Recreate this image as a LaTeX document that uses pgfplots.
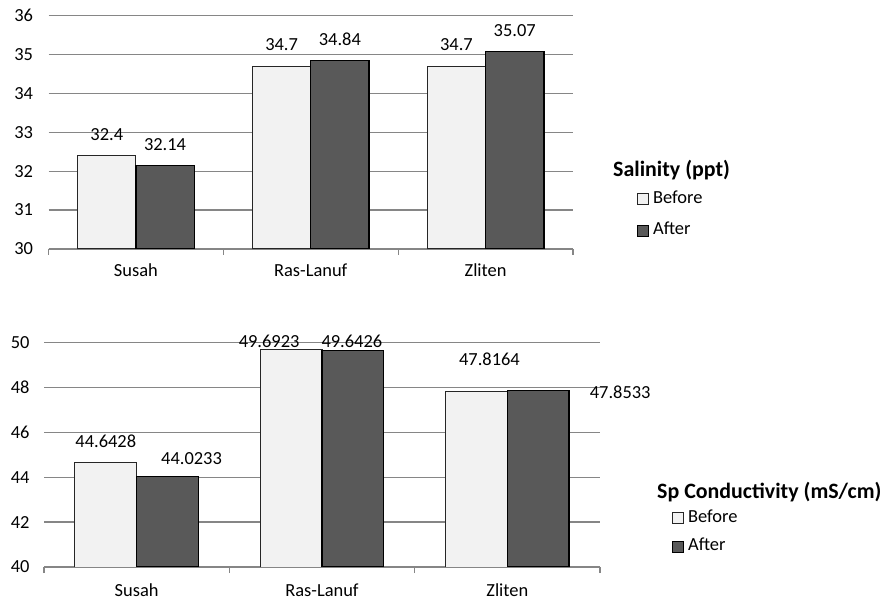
\documentclass[border=0pt]{standalone}
\usepackage{pgfplots}
\pgfplotsset{compat=1.18}
\usepackage{pgfplotstable}
\usepackage{fontspec}
\setmainfont{Carlito}

\definecolor{barlight}{HTML}{F2F2F2}
\definecolor{bardark}{HTML}{595959}
\definecolor{gridgray}{HTML}{868686}

% salinity (ppt): x, value, label offset (dx, dy in bp)
\pgfplotstableread{
x y dx dy
0 32.4 0 21.5
1 34.7 0 21.5
2 34.7 0 21.5
}\salbefore
\pgfplotstableread{
x y dx dy
0 32.14 0 21.5
1 34.84 0 21.5
2 35.07 0 21.5
}\salafter
% specific conductivity (mS/cm)
\pgfplotstableread{
x y dx dy
0 44.6428 0 21.3
1 49.6923 -22 8.3
2 47.8164 13 32
}\condbefore
\pgfplotstableread{
x y dx dy
0 44.0233 24 18.2
1 49.6426 -1 9.7
2 47.8533 82 -1.4
}\condafter

\pgfplotsset{
  barpanel/.style={
    scale only axis,
    anchor=south west,
    xmin=-0.5, xmax=2.5,
    xtick={0,1,2},
    xticklabels={Susah,Ras-Lanuf,Zliten},
    minor xtick={-0.5,0.5,1.5,2.5},
    major tick length=0pt,
    minor tick length=6bp,
    tick align=outside,
    minor tick style={gridgray, line width=1.2bp},
    axis x line*=bottom,
    axis y line*=left,
    x axis line style={gridgray, line width=1.3bp, -},
    y axis line style={draw=none},
    ymajorgrids,
    grid style={gridgray, line width=1.3bp},
    /pgf/number format/assume math mode=true,
    tick label style={font=\fontsize{18.5}{21}\selectfont, black},
    ybar=0pt,
    bar width=0.3333,
    point meta=explicit symbolic,
    nodes near coords,
    visualization depends on={\thisrow{dx} \as \dx},
    visualization depends on={\thisrow{dy} \as \dy},
    every node near coord/.append style={anchor=center, xshift=\dx bp, yshift=\dy bp,
      font=\fontsize{18.5}{21}\selectfont, black, inner sep=0pt},
    legend image code/.code={
      \draw[##1, line width=0.9bp] (0bp,-5.5bp) rectangle (11bp,5.5bp);
      \path (15bp,0bp);
    },
    legend style={draw=none, fill=none, inner sep=0pt, outer sep=0pt,
      font=\fontsize{18.5}{21}\selectfont,
      nodes={inner sep=0pt, text height=12bp, text depth=4bp},
      cells={anchor=west}},
  },
  before/.style={fill=barlight, draw=black!85, line width=1bp},
  after/.style={fill=bardark, draw=black, line width=1.3bp},
}

\begin{document}
\begin{tikzpicture}
\useasboundingbox (0,0) rectangle (885bp,601bp);

% upper panel: salinity
\begin{axis}[barpanel,
  at={(48.5bp,352bp)}, width=524.5bp, height=233.5bp,
  ymin=30, ymax=36, ytick={30,31,...,36},
  yticklabel style={xshift=-12bp},
  xticklabel style={yshift=-11bp},
  legend style={at={(1.122,0.247)}, anchor=north west, row sep=15.6bp},
]
\addplot[before] table[x=x, y=y, meta=y] {\salbefore};
\addplot[after] table[x=x, y=y, meta=y] {\salafter};
\legend{Before,After}
\end{axis}
\node[anchor=west, inner sep=0pt, font=\fontsize{22}{26}\selectfont\bfseries]
  at (613bp,431bp) {Salinity (ppt)};

% lower panel: specific conductivity
\begin{axis}[barpanel,
  at={(44bp,34bp)}, width=556bp, height=224.3bp,
  ymin=40, ymax=50, ytick={40,42,...,50},
  yticklabel style={xshift=-11bp},
  xticklabel style={yshift=-13bp},
  legend style={at={(1.1295,0.253)}, anchor=north west, row sep=12.3bp},
]
\addplot[before] table[x=x, y=y, meta=y] {\condbefore};
\addplot[after] table[x=x, y=y, meta=y] {\condafter};
\legend{Before,After}
\end{axis}
\node[anchor=west, inner sep=0pt, font=\fontsize{22}{26}\selectfont\bfseries]
  at (657bp,109bp) {Sp Conductivity (mS/cm)};
\end{tikzpicture}
\end{document}
